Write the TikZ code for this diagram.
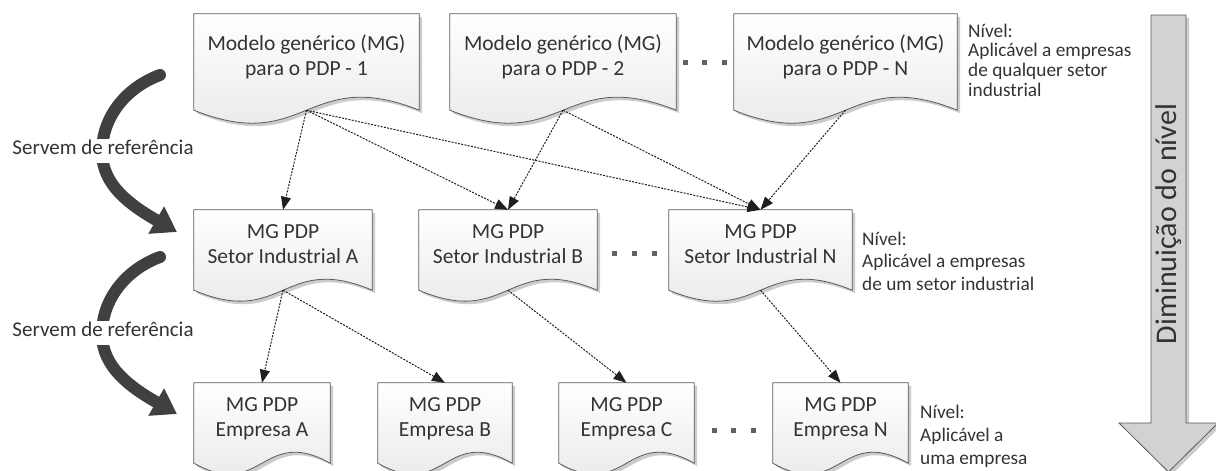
\documentclass[tikz,border=0pt]{standalone}
\usepackage{fontspec}
\setmainfont{Carlito}
\usetikzlibrary{arrows.meta,calc}
\pgfdeclarelayer{background}
\pgfsetlayers{background,main}

\definecolor{edgegray}{HTML}{5A5A5A}
\definecolor{txt}{HTML}{333333}
\definecolor{swoosh}{HTML}{404040}
\definecolor{levelfill}{HTML}{D2D2D2}

% two centred lines with fixed struts so every box places its text the same way
\newcommand{\doctext}[2]{\rule{0pt}{16pt}#1\\#2\rule[-14.5pt]{0pt}{14.5pt}}
\newcommand{\lvlstrut}{\rule{0pt}{15pt}}

% document outline (shadow + shaded body) around a box node; #2 = wave depth
\newcommand{\docshape}[2]{%
  \fill[docshadow] ($(#1.north west)+(3,3)$) -- ($(#1.north east)+(3,3)$) -- ($(#1.south east)+(3,3)$)
    .. controls ($(#1.south)+(3,3-#2)$) and ($(#1.south)+(3,3+#2)$) .. ($(#1.south west)+(3,3)$) -- cycle;
  \path[docbody] (#1.north west) -- (#1.north east) -- (#1.south east)
    .. controls ($(#1.south)+(0,-#2)$) and ($(#1.south)+(0,#2)$) .. (#1.south west) -- cycle;
}

\tikzset{
  docbox/.style={rectangle, inner sep=0pt, align=center, text=txt,
    font=\fontsize{21.5}{25.5}\selectfont},
  docbody/.style={draw=edgegray, line width=0.8pt, top color=white, bottom color=black!10},
  docshadow/.style={fill=black!20},
  link/.style={draw=black!88, line width=1pt, dash pattern=on 2pt off 1.3pt,
    -{Triangle[length=13pt,width=10pt]}},
  swoop/.style={draw=swoosh, line width=12pt, line cap=round,
    -{Triangle[length=24pt,width=30pt]}},
  reftext/.style={anchor=base, fill=white, inner xsep=1pt, inner ysep=1pt,
    text height=14pt, text depth=8pt, text=txt, font=\fontsize{21}{25}\selectfont},
  leveltext/.style={anchor=north west, inner sep=0pt, align=left, text=txt},
  dotmark/.style={fill=black!62},
}

\begin{document}
\begin{tikzpicture}[x=1pt,y=-1pt]
\useasboundingbox (0,0) rectangle (1216,471);

% generic models
\node[docbox, minimum width=225, minimum height=96] (g1) at (306.5,62) {\doctext{Modelo genérico (MG)}{para o PDP - 1}};
\node[docbox, minimum width=226, minimum height=96] (g2) at (563,62) {\doctext{Modelo genérico (MG)}{para o PDP - 2}};
\node[docbox, minimum width=223, minimum height=96] (gN) at (845.5,62) {\doctext{Modelo genérico (MG)}{para o PDP - N}};

% industrial sector models
\node[docbox, minimum width=178, minimum height=80] (s1) at (283,250) {\doctext{MG PDP}{Setor Industrial A}};
\node[docbox, minimum width=178, minimum height=80] (s2) at (508,250) {\doctext{MG PDP}{Setor Industrial B}};
\node[docbox, minimum width=183, minimum height=80] (sN) at (760.5,250) {\doctext{MG PDP}{Setor Industrial N}};

% company models
\node[docbox, minimum width=136, minimum height=80] (e1) at (262,423) {\doctext{MG PDP}{Empresa A}};
\node[docbox, minimum width=134, minimum height=80] (e2) at (445,423) {\doctext{MG PDP}{Empresa B}};
\node[docbox, minimum width=135, minimum height=80] (e3) at (626.5,423) {\doctext{MG PDP}{Empresa C}};
\node[docbox, minimum width=135, minimum height=80] (eN) at (840.5,423) {\doctext{MG PDP}{Empresa N}};

\begin{pgfonlayer}{background}
  \docshape{g1}{45}\docshape{g2}{45}\docshape{gN}{45}
  \docshape{s1}{38}\docshape{s2}{38}\docshape{sN}{38}
  \docshape{e1}{38}\docshape{e2}{38}\docshape{e3}{38}\docshape{eN}{38}
\end{pgfonlayer}

% ellipsis marks between the boxes
\foreach \x in {685.5,704.5,724} \fill[dotmark] (\x-2.5,60) rectangle ++(5,5);
\foreach \x in {614.5,634,654} \fill[dotmark] (\x-2.5,251) rectangle ++(5,5);
\foreach \x in {714.5,733,753} \fill[dotmark] (\x-2.5,427.5) rectangle ++(5,5);

% reference links
\draw[link] (g1.south) -- (s1.north);
\draw[link] (g1.south) -- (s2.north);
\draw[link] (g1.south) -- (sN.north);
\draw[link] (g2.south) -- (s2.north);
\draw[link] (g2.south) -- (sN.north);
\draw[link] (gN.south) -- (sN.north);
\draw[link] (s1.south) -- (e1.north);
\draw[link] (s1.south) -- (e2.north);
\draw[link] (s2.south) -- (e3.north);
\draw[link] (sN.south) -- (eN.north);

% curved "serve as reference" arrows
\foreach \dy/\nm in {0/ref1,182/ref2}{
  \draw[swoop] (160,75+\dy) .. controls (125,88+\dy) and (102,118+\dy) .. (102,152+\dy)
    .. controls (102,185+\dy) and (130,205+\dy) .. (177,232+\dy);
  \node[reftext] (\nm) at (103,154+\dy) {Servem de referência};
}

% level descriptions
\node[leveltext, font=\fontsize{19.3}{19.7}\selectfont] (lv1) at (968,22)
  {\lvlstrut Nível:\\Aplicável a empresas\\de qualquer setor\\industrial};
\node[leveltext, font=\fontsize{19.3}{22.5}\selectfont] (lv2) at (862,230)
  {\lvlstrut Nível:\\Aplicável a empresas\\de um setor industrial};
\node[leveltext, font=\fontsize{19.3}{23}\selectfont] (lv3) at (920,403)
  {\lvlstrut Nível:\\Aplicável a\\uma empresa};

% level decrease arrow
\fill[black!20] (1154,18) -- (1189,18) -- (1189,426) -- (1221,426) -- (1171.5,475) -- (1122,426) -- (1154,426) -- cycle;
\draw[draw=edgegray, line width=0.8pt, fill=levelfill]
  (1151,15) -- (1186,15) -- (1186,423) -- (1218,423) -- (1168.5,472) -- (1119,423) -- (1151,423) -- cycle;
\node[rotate=90, text=txt, font=\fontsize{30}{36}\selectfont] (dimin) at (1168.5,224) {Diminuição do nível};
\end{tikzpicture}
\end{document}
